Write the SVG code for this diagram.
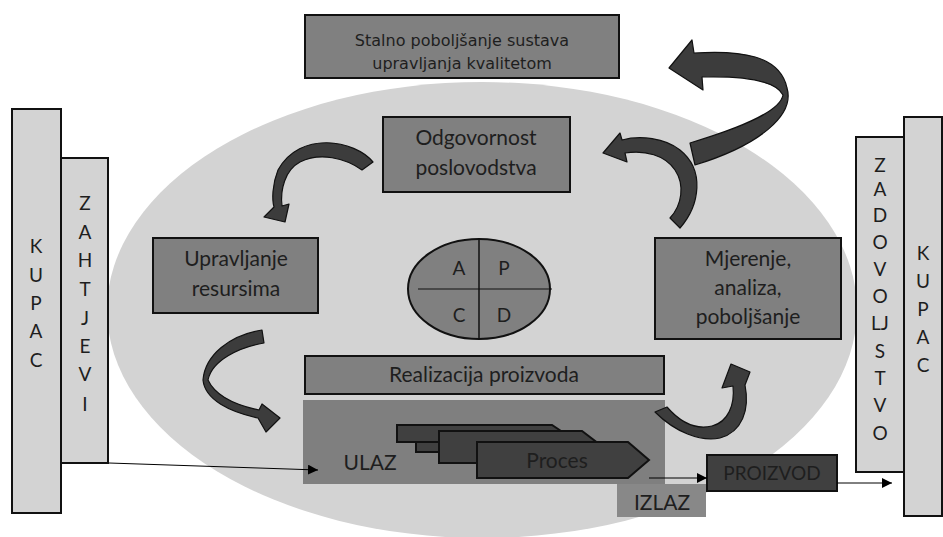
<svg xmlns="http://www.w3.org/2000/svg" width="943" height="537" viewBox="0 0 943 537">
<defs>
<marker id="ah" viewBox="0 0 10 10" refX="10" refY="5" markerWidth="10" markerHeight="10" markerUnits="userSpaceOnUse" orient="auto">
<path d="M0,0 L10,5 L0,10 Z" fill="#000"/>
</marker>
</defs>
<style>
.side{fill:#d3d3d3;stroke:#111;stroke-width:2}
.box{fill:#808080;stroke:#111;stroke-width:2}
.dark{fill:#404040;stroke:#111;stroke-width:2}
.arr{fill:#3c3c3c;stroke:#111;stroke-width:1.2;stroke-linejoin:round}
.t{font-family:Lato,"Liberation Sans",sans-serif;font-size:21px;fill:#1e1e1e;text-anchor:middle}
.v{font-family:Lato,"Liberation Sans",sans-serif;font-size:19px;fill:#1e1e1e;text-anchor:middle}
.tt{font-family:"DejaVu Sans","Liberation Sans",sans-serif;font-size:16px;fill:#1e1e1e;text-anchor:middle}
.ln{stroke:#000;stroke-width:1;fill:none}
</style>
<rect width="943" height="537" fill="#fff"/>
<ellipse id="bg" cx="482" cy="310" rx="375" ry="228" fill="#d3d3d3"/>

<g id="kupac-left">
<rect class="side" x="12" y="109" width="49" height="404"/>
<text class="v" x="36"><tspan x="36" y="253">K</tspan><tspan x="36" y="282">U</tspan><tspan x="36" y="310">P</tspan><tspan x="36" y="338">A</tspan><tspan x="36" y="367">C</tspan></text>
</g>
<g id="zahtjevi">
<rect class="side" x="61" y="158" width="47" height="305"/>
<text class="v"><tspan x="85" y="210">Z</tspan><tspan x="85" y="239">A</tspan><tspan x="85" y="267">H</tspan><tspan x="85" y="296">T</tspan><tspan x="85" y="325">J</tspan><tspan x="85" y="353">E</tspan><tspan x="85" y="381">V</tspan><tspan x="85" y="411">I</tspan></text>
</g>
<g id="kupac-right">
<rect class="side" x="904" y="117" width="38" height="399"/>
<text class="v"><tspan x="923" y="260">K</tspan><tspan x="923" y="288">U</tspan><tspan x="923" y="316">P</tspan><tspan x="923" y="344">A</tspan><tspan x="923" y="372">C</tspan></text>
</g>
<g id="zadovoljstvo">
<rect class="side" x="856" y="137" width="48" height="335"/>
<text class="v"><tspan x="880" y="172">Z</tspan><tspan x="880" y="196">A</tspan><tspan x="880" y="222">D</tspan><tspan x="880" y="249">O</tspan><tspan x="880" y="276">V</tspan><tspan x="880" y="303">O</tspan><tspan x="880" y="330">LJ</tspan><tspan x="880" y="358">S</tspan><tspan x="880" y="385">T</tspan><tspan x="880" y="412">V</tspan><tspan x="880" y="440">O</tspan></text>
</g>

<g id="stalno">
<rect class="box" x="305" y="15" width="314" height="63"/>
<text class="tt"><tspan x="462" y="46">Stalno poboljšanje sustava</tspan><tspan x="462" y="69">upravljanja kvalitetom</tspan></text>
</g>
<g id="odgovornost">
<rect class="box" x="383" y="117" width="187" height="75"/>
<text class="t"><tspan x="476" y="145">Odgovornost</tspan><tspan x="476" y="175">poslovodstva</tspan></text>
</g>
<g id="upravljanje">
<rect class="box" x="153" y="238" width="165" height="75"/>
<text class="t"><tspan x="236" y="266">Upravljanje</tspan><tspan x="236" y="296">resursima</tspan></text>
</g>
<g id="mjerenje">
<rect class="box" x="655" y="238" width="186" height="101"/>
<text class="t"><tspan x="748" y="266">Mjerenje,</tspan><tspan x="748" y="295">analiza,</tspan><tspan x="748" y="324">poboljšanje</tspan></text>
</g>
<g id="pdca">
<ellipse cx="479" cy="289" rx="71" ry="50" fill="#808080" stroke="#111" stroke-width="2"/>
<line x1="479" y1="239" x2="479" y2="339" stroke="#111" stroke-width="1.5"/>
<line x1="418" y1="289" x2="552" y2="289" stroke="#111" stroke-width="1.2"/>
<text class="t" style="font-size:19px"><tspan x="459" y="275">A</tspan><tspan x="504" y="275">P</tspan><tspan x="459" y="322">C</tspan><tspan x="504" y="322">D</tspan></text>
</g>
<g id="realizacija">
<rect class="box" x="305" y="356" width="359" height="38"/>
<text class="t" x="484" y="382">Realizacija proizvoda</text>
</g>
<g id="proces-area">
<rect x="303" y="400" width="362" height="84" fill="#7f7f7f"/>
<text class="t" x="370" y="470">ULAZ</text>
</g>
<g id="izlaz">
<rect x="617" y="484" width="89" height="33" fill="#888"/>
<text class="t" x="662" y="510">IZLAZ</text>
</g>
<g id="proces">
<polygon class="dark" points="416,432 555,432 575,442 555,452 416,452"/>
<polygon class="dark" points="397,425 552,425 570,437 552,442 397,442"/>
<polygon class="dark" points="439,431 582,431 603,447 582,463 439,463"/>
<polygon class="dark" points="477,442 628,442 649,460 628,478 477,478"/>
<text class="t" x="557" y="468">Proces</text>
</g>
<g id="proizvod">
<rect class="dark" x="707" y="455" width="130" height="36"/>
<text class="t" x="772" y="480" style="font-size:19px">PROIZVOD</text>
</g>

<g id="connectors">
<line class="ln" x1="109" y1="463" x2="318" y2="470" marker-end="url(#ah)"/>
<line class="ln" x1="649" y1="478" x2="707" y2="478" marker-end="url(#ah)"/>
<line class="ln" x1="837" y1="483" x2="892" y2="483" marker-end="url(#ah)"/>
<path class="arr" d="M669,68 L692,40 L694,53 C740,50 780,55 787,88 C795,115 760,145 695,165 L690,143 C740,128 780,112 783,95 C775,80 740,76 702,77 L703,90 Z"/>
<path class="arr" d="M373,162 C355,140 300,130 278,170 C272,185 272,200 274,207 L264,217 L285,222 L289,204 L282,206 C280,190 285,170 300,162 C320,152 345,158 362,170 Z"/>
<path class="arr" d="M670,218 L680,228 C700,205 705,170 680,150 C665,138 640,135 622,140 L620,133 L603,153 L627,162 L625,153 C645,150 665,155 675,170 C685,185 682,205 670,218 Z"/>
<path class="arr" d="M262,330 C230,335 205,355 203,380 C205,400 230,412 258,418 L266,432 L280,418 L262,404 L259,410 C235,405 215,395 208,380 C212,360 240,347 264,343 Z"/>
<path class="arr" d="M655,412 C675,432 700,442 720,438 C742,432 750,410 745,385 L750,372 L731,364 L722,388 L733,386 C735,405 728,422 712,426 C695,430 680,422 667,407 Z"/>
</g>
</svg>
